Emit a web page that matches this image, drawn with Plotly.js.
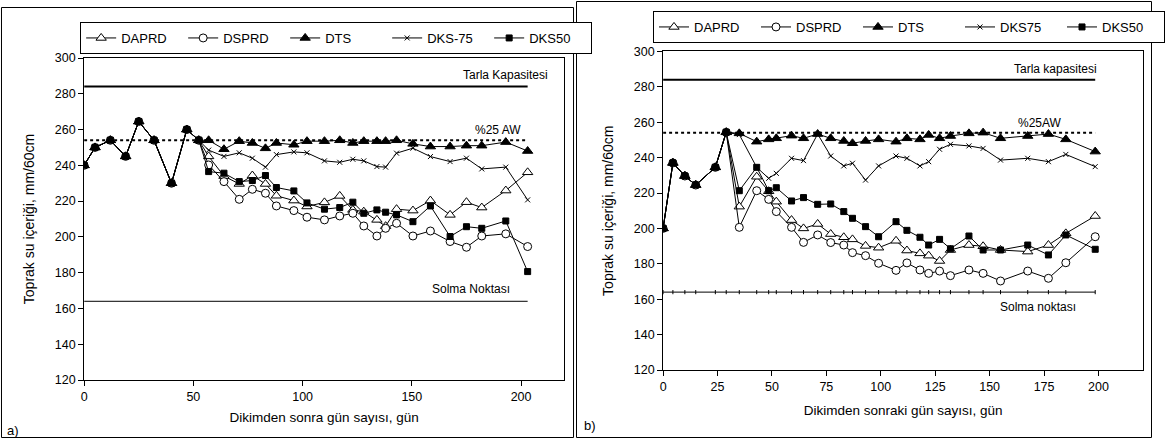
<!DOCTYPE html>
<html>
<head>
<meta charset="utf-8">
<script src="https://cdn.plot.ly/plotly-3.0.1.min.js"></script>
<style>html,body{margin:0;padding:0;background:#fff;}#chart{width:1165px;height:439px;}</style>
</head>
<body>
<div id="chart"></div>
<script>
// ---------- Panel a) data ----------
const daysA = [0,5,12,19,25,32,40,47,52.5,57,64,71,77,83,88,96,102,110,117,123,128,134,138,143,150.5,158.5,167.5,175,182,193,203];
const commonA = [240,250,254,245,264.5,254,230,260,254];
const dapdrA = [245,234,229.6,234.3,229.6,223,220.3,217,219.3,222.9,215.1,214.1,209.5,206,215.5,214.7,220.3,212.3,219.4,216.4,225.9,236.1];
const dsprdA = [240.2,230.9,221,226.6,224.4,217.3,214.7,211,209.5,211.7,213.2,206.1,200.5,204.8,207.6,200.5,203.3,197.4,194.2,200.5,201.7,194.6];
const dtsA   = [254,249,253.5,252.5,249.5,252.5,251.5,253.5,253.5,254,252.5,253.5,253.5,253.5,254,252,250.5,250.5,251,251,253,248];
const dks75A = [248.5,245,247,244,239,246,247.5,247,242.5,241.7,243.4,242.5,239.3,239,246.8,249.6,244.9,242.1,244,238,239,220.7];
const dks50A = [236.5,235.6,230.9,231.5,234.3,227.6,225.7,219,215.5,216.4,219.4,213.2,215.1,213.8,212.3,208.5,217.3,200.2,205.7,204.8,208.9,180.6];
const namesA = ["DAPRD","DSPRD","DTS","DKS-75","DKS50"];

// ---------- Panel b) data ----------
const daysB = [0,4.5,10,15,24,29,35,43,48.5,52,59,64.5,71,77,83,87,93,99,107,112,118,122,127,132,140.5,147,155,167.5,177,185,198.5];
const commonB = [200,237,229.6,224.5,234.5,254.3];
const dapdrB = [212.3,229.2,221,215.1,204.7,200,202.5,196.8,195,193.8,190.1,189.1,193,187.5,185.9,184.6,181.6,187.8,190.6,189.9,187.8,186.9,190.6,197.2,207];
const dsprdB = [200.6,221.3,216.4,209.5,200.6,192.1,196.3,192,190.6,186.3,184.6,180.3,176.3,180.5,176.5,174.6,175.9,173.3,176.5,174.6,170.3,175.9,171.8,180.6,195.3];
const dtsB   = [253.7,249,250.3,250.9,252.4,250.9,253.3,250.9,249.4,248.1,249.4,250.3,249,250.9,250.3,252.8,250.9,252.2,253.7,254.1,250.9,252.2,253.3,250.3,243.4];
const dks75B = [253,234.5,228.3,231.1,239.6,238.3,253.3,240.9,235.3,236.8,227.3,235.3,240.9,239.6,235.3,237.7,244.7,247.5,246.6,245.2,238.6,239.6,237.7,241.8,234.9];
const dks50B = [221.3,234.5,221.3,223,215.5,217.4,213.6,213.8,209.5,205.7,201,195.3,203.8,198.9,195,190.6,193.8,188.5,195.7,187.8,187.8,190.6,185,196.3,188.2];
const namesB = ["DAPRD","DSPRD","DTS","DKS75","DKS50"];

// ---------- Reference levels ----------
const tarlaKapasitesi = 284;
const aw25 = 254;
const solmaNoktasi = 164;
const refSpanA = [0, 203];
const refSpanB = [0, 198.5];

const yTicks = [120,140,160,180,200,220,240,260,280,300];
const xTicksA = [0,50,100,150,200];
const xTicksB = [0,25,50,75,100,125,150,175,200];

// ---------- helpers ----------
const W = 1165, H = 439;
const px = v => v / W;
const py = v => 1 - v / H;
const FONT = "Liberation Sans, Arial, sans-serif";
const pad = n => "\u00A0".repeat(n);

const styles = [
  {symbol: "triangle-up", size: 9, color: "white"},
  {symbol: "circle", size: 8, color: "white"},
  {symbol: "triangle-up", size: 9, color: "black"},
  {symbol: "x-thin", size: 5, color: "black"},
  {symbol: "square", size: 6, color: "black"}
];

function seriesTraces(days, common, tails, names, xa, ya, legendId) {
  return tails.map((t, i) => ({
    type: "scatter", mode: "lines+markers",
    x: days, y: common.concat(t), name: names[i],
    xaxis: xa, yaxis: ya, legend: legendId,
    line: {color: "black", width: 1},
    marker: {symbol: styles[i].symbol, size: styles[i].size, color: styles[i].color,
             line: {color: "black", width: 1}}
  }));
}

function refTraces(span, xa, ya, solmaDays) {
  return [
    {type: "scatter", mode: "lines", x: span, y: [tarlaKapasitesi, tarlaKapasitesi], xaxis: xa, yaxis: ya,
     line: {color: "black", width: 2}, showlegend: false, hoverinfo: "skip"},
    {type: "scatter", mode: "lines", x: span, y: [aw25, aw25], xaxis: xa, yaxis: ya,
     line: {color: "black", width: 2, dash: "dot"}, showlegend: false, hoverinfo: "skip"},
    {type: "scatter", mode: solmaDays ? "lines+markers" : "lines",
     x: solmaDays || span, y: (solmaDays || span).map(() => solmaNoktasi), xaxis: xa, yaxis: ya,
     line: {color: "black", width: 1}, marker: {symbol: "line-ns", size: 3, line: {color: "black", width: 1}},
     showlegend: false, hoverinfo: "skip"}
  ];
}

const data = [].concat(
  refTraces(refSpanA, "x", "y", null),
  seriesTraces(daysA, commonA, [dapdrA, dsprdA, dtsA, dks75A, dks50A], namesA, "x", "y", "legend"),
  refTraces(refSpanB, "x2", "y2", daysB),
  seriesTraces(daysB, commonB, [dapdrB, dsprdB, dtsB, dks75B, dks50B], namesB, "x2", "y2", "legend2")
);

const axisCommon = {
  showline: true, linecolor: "black", linewidth: 1, mirror: true,
  ticks: "outside", ticklen: 5, tickcolor: "black", tickwidth: 1,
  showgrid: false, zeroline: false, automargin: false,
  tickfont: {family: FONT, size: 12.5, color: "black"}
};

const legendCommon = {
  orientation: "h", xanchor: "left", yanchor: "top",
  bgcolor: "white", bordercolor: "black", borderwidth: 1,
  font: {family: FONT, size: 13, color: "black"}, traceorder: "normal",
  entrywidth: 57, entrywidthmode: "pixels"
};

const titleFont = {family: FONT, size: 13.5, color: "black"};
const yTitleFont = {family: FONT, size: 14, color: "black"};

const layout = {
  width: W, height: H,
  margin: {l: 0, r: 0, t: 0, b: 0},
  paper_bgcolor: "white", plot_bgcolor: "white",
  font: {family: FONT, size: 12, color: "black"},
  xaxis: Object.assign({}, axisCommon, {
    domain: [px(85), px(570)], anchor: "y", range: [0, 219.7], tickvals: xTicksA,
    title: {text: "Dikimden sonra gün sayısı, gün" + pad(6), font: titleFont, standoff: 9}
  }),
  yaxis: Object.assign({}, axisCommon, {
    domain: [py(380), py(58)], anchor: "x", range: [120, 300], tickvals: yTicks,
    title: {text: "Toprak su içeriği, mm/60cm", font: yTitleFont, standoff: 16}
  }),
  xaxis2: Object.assign({}, axisCommon, {
    domain: [px(670), px(1155)], anchor: "y2", range: [0, 220.5], tickvals: xTicksB,
    title: {text: "Dikimden sonraki gün sayısı, gün" + pad(18), font: titleFont, standoff: 12}
  }),
  yaxis2: Object.assign({}, axisCommon, {
    domain: [py(370), py(51.4)], anchor: "x2", range: [120, 300], tickvals: yTicks,
    title: {text: "Toprak su içeriği, mm/60cm", font: yTitleFont, standoff: 16}
  }),
  legend: Object.assign({}, legendCommon, {x: px(81), y: py(22)}),
  legend2: Object.assign({}, legendCommon, {x: px(660), y: py(11)}),
  shapes: [
    {type: "rect", xref: "paper", yref: "paper", x0: px(1.5), x1: px(579.5), y0: py(437.5), y1: py(7.5),
     line: {color: "black", width: 1}, layer: "below"},
    {type: "rect", xref: "paper", yref: "paper", x0: px(582.5), x1: px(1163.5), y0: py(437.5), y1: py(1.5),
     line: {color: "black", width: 1}, layer: "below"}
  ],
  annotations: [
    {text: "Tarla Kapasitesi", x: px(556), y: py(75), xref: "paper", yref: "paper", xanchor: "right", yanchor: "middle", showarrow: false},
    {text: "%25 AW", x: px(528), y: py(130), xref: "paper", yref: "paper", xanchor: "right", yanchor: "middle", showarrow: false},
    {text: "Solma Noktası", x: px(517), y: py(289), xref: "paper", yref: "paper", xanchor: "right", yanchor: "middle", showarrow: false},
    {text: "a)", x: px(5), y: py(430), xref: "paper", yref: "paper", xanchor: "left", yanchor: "middle", showarrow: false, font: {size: 13}},
    {text: "Tarla kapasitesi", x: px(1110), y: py(69), xref: "paper", yref: "paper", xanchor: "right", yanchor: "middle", showarrow: false},
    {text: "%25AW", x: px(1075), y: py(123), xref: "paper", yref: "paper", xanchor: "right", yanchor: "middle", showarrow: false},
    {text: "Solma noktası", x: px(1089), y: py(307), xref: "paper", yref: "paper", xanchor: "right", yanchor: "middle", showarrow: false},
    {text: "b)", x: px(588), y: py(425), xref: "paper", yref: "paper", xanchor: "left", yanchor: "middle", showarrow: false, font: {size: 13}}
  ],
  showlegend: true
};

Plotly.newPlot("chart", data, layout, {staticPlot: true, displayModeBar: false});
</script>
</body>
</html>
